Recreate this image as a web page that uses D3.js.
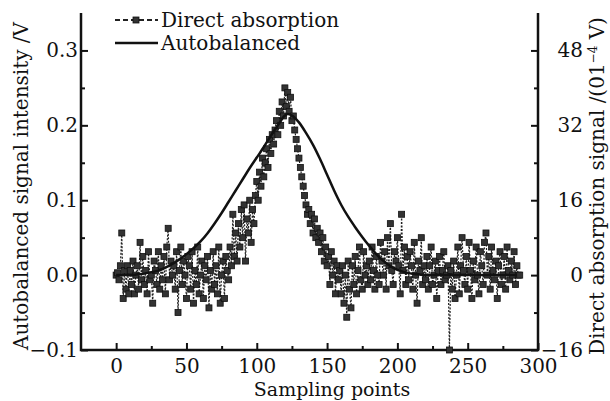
<!DOCTYPE html>
<html>
<head>
  <meta charset="utf-8" />
  <script src="https://d3js.org/d3.v7.min.js"></script>
  <style>
    body { margin: 0; background: white; }
    text { font-family: "DejaVu Serif", serif; fill: #111; }
  </style>
</head>
<body>
  <div id="chart"></div>
  <script>
    // direct absorption signal (units of 1e-4 V), one value per sampling point 0..287
    const directVals = [
      0, 0.5, -1, 2, 9, -5, 1, -3, 2, -4,
      1, -2, 3, -4, 0, 2, -3, 7, -1, 4,
      -2, 1, -4, 5, -1, 0, -6, 3, 1, -2,
      5, -3, 2, -1, 4, -4, 6, 10, -1, 3,
      0, 2, -3, 5, -8, 1, 6, -2, 3, 0,
      -5, 4, 2, -3, 5, -6, 1, -2, 6, -4,
      0, 3, -5, 2, -1, 4, -7, 1, -3, 5,
      -2, 2, -4, 6, -6, 0, 3, -5, 4, 1,
      -1, 6, 2, 13, 4, 9, 3, 11, 6, 14,
      8, 15, 3, 12, 9, 16, 7, 14, 11, 17,
      20, 16, 22, 19, 25, 21, 24, 27, 23, 29,
      26, 30, 28, 31, 33, 30, 35, 32, 37, 34,
      40, 36, 39, 35, 38, 33, 34, 31, 29, 27,
      25, 23, 21, 19, 17, 15, 13, 14, 11, 13,
      9, 12, 8, 10, 7, 9, 5, 8, 3, 6,
      2, 4, -2, 5, 0, 3, -4, 2, -1, 1,
      -4, 2, -6, 0, -9, 3, -3, -7, 2, -2,
      4, -4, 1, 6, -1, -3, 5, 0, 2, -2,
      3, -1, 6, 1, -3, 4, 0, -2, 7, 3,
      0, 5, -3, 8, 2, 11, 1, -2, 5, 3,
      8, 2, -4, 13, 1, 6, -2, 4, -1, 5,
      2, -3, 7, 0, -6, 3, 1, 8, -2, 2,
      -1, 4, -3, 2, 6, -2, 0, 3, -5, 1,
      4, -2, 1, 5, -1, 0, 2, -16, 1, -3,
      3, -5, 0, 6, -4, 2, 8, 1, -2, 4,
      -3, 7, 1, -5, 3, -1, 6, 0, -4, 5,
      2, -2, 7, 9, 0, 4, -3, 6, 1, -1,
      3, -5, 2, 5, -2, 0, 4, -3, 6, 1,
      -1, 3, 0, 5, -2, 2, 0, 0
    ];

    // autobalanced signal (V), smooth curve
    const autoX = [0, 5, 10, 15, 20, 25, 30, 35, 40, 45, 50, 55, 60, 65, 70, 75, 80, 85, 90, 95,
      100, 105, 110, 115, 120, 122, 125, 130, 135, 140, 145, 150, 155, 160, 165, 170, 175, 180,
      185, 190, 195, 200, 205, 210, 215, 220, 230, 240, 250, 260, 270, 280, 285];
    const autoY = [0, 0, 0, 0.001, 0.002, 0.004, 0.006, 0.010, 0.015, 0.021, 0.028, 0.036, 0.045,
      0.056, 0.069, 0.083, 0.098, 0.113, 0.128, 0.143, 0.157, 0.171, 0.186, 0.200, 0.213, 0.215,
      0.213, 0.204, 0.190, 0.174, 0.155, 0.134, 0.113, 0.094, 0.078, 0.064, 0.051, 0.039, 0.028,
      0.019, 0.012, 0.007, 0.004, 0.002, 0.001, 0, 0, 0, 0, 0, 0, 0, 0];

    const xTicks = [0, 50, 100, 150, 200, 250, 300];
    const xMinor = [25, 75, 125, 175, 225, 275];
    const yTicks = [-0.1, 0.0, 0.1, 0.2, 0.3];
    const yMinor = [-0.05, 0.05, 0.15, 0.25];
    const y2Ticks = [-16, 0, 16, 32, 48];
    const y2Minor = [-8, 8, 24, 40];

    const width = 610, height = 401;
    const mLeft = 81, mRight = 538, mTop = 13, mBottom = 350;

    const svg = d3.select("#chart").append("svg")
      .attr("width", width).attr("height", height);

    const x = d3.scaleLinear().domain([-25, 300]).range([mLeft, mRight]);
    const y = d3.scaleLinear().domain([-0.1, 0.35]).range([mBottom, mTop]);
    const y2 = d3.scaleLinear().domain([-16, 56]).range([mBottom, mTop]);

    const fs = 20;

    // axes
    const axisStyle = g => {
      g.select(".domain").remove();
      g.selectAll("line").attr("stroke", "#111").attr("stroke-width", 2);
      g.selectAll("text").attr("font-size", fs).attr("fill", "#111")
        .attr("font-family", "DejaVu Serif");
    };
    const fmt1 = d => (d < 0 ? "\u2212" : "") + Math.abs(d).toFixed(1);
    const fmt0 = d => (d < 0 ? "\u2212" : "") + Math.abs(d);

    svg.append("g").attr("transform", `translate(0,${mBottom})`)
      .call(d3.axisTop(x).tickValues(xMinor).tickSize(4).tickFormat(""))
      .call(axisStyle);
    svg.append("g").attr("transform", `translate(0,${mBottom})`)
      .call(d3.axisBottom(x).tickValues(xTicks).tickSize(0).tickPadding(9).tickFormat(fmt0))
      .call(axisStyle);
    svg.append("g").attr("transform", `translate(0,${mBottom})`)
      .call(d3.axisTop(x).tickValues(xTicks).tickSize(7).tickFormat(""))
      .call(axisStyle);

    svg.append("g").attr("transform", `translate(${mLeft},0)`)
      .call(d3.axisRight(y).tickValues(yMinor).tickSize(4).tickFormat(""))
      .call(axisStyle);
    svg.append("g").attr("transform", `translate(${mLeft},0)`)
      .call(d3.axisRight(y).tickValues(yTicks).tickSize(7).tickFormat(""))
      .call(axisStyle);
    svg.append("g").attr("transform", `translate(${mLeft},0)`)
      .call(d3.axisLeft(y).tickValues(yTicks).tickSize(0).tickPadding(3).tickFormat(fmt1))
      .call(axisStyle);

    svg.append("g").attr("transform", `translate(${mRight},0)`)
      .call(d3.axisLeft(y2).tickValues(y2Minor).tickSize(4).tickFormat(""))
      .call(axisStyle);
    svg.append("g").attr("transform", `translate(${mRight},0)`)
      .call(d3.axisLeft(y2).tickValues(y2Ticks).tickSize(7).tickFormat(""))
      .call(axisStyle);
    svg.append("g").attr("transform", `translate(583,0)`)
      .call(d3.axisLeft(y2).tickValues(y2Ticks).tickSize(0).tickPadding(0).tickFormat(fmt0))
      .call(axisStyle);

    // frame lines (left, bottom, right)
    svg.append("path")
      .attr("d", `M${mLeft},${mTop}V${mBottom}H${mRight}V${mTop}`)
      .attr("fill", "none").attr("stroke", "#111").attr("stroke-width", 2.5);

    // direct absorption: dashed line with square markers
    const directData = directVals.map((v, i) => [i, v]);
    const line2 = d3.line().x(d => x(d[0])).y(d => y2(d[1]));
    svg.append("path").datum(directData)
      .attr("d", line2).attr("fill", "none")
      .attr("stroke", "#222").attr("stroke-width", 1.2).attr("stroke-dasharray", "2,1.5");

    const ms = 6;
    svg.append("g").selectAll("rect").data(directData).join("rect")
      .attr("x", d => x(d[0]) - ms / 2).attr("y", d => y2(d[1]) - ms / 2)
      .attr("width", ms).attr("height", ms)
      .attr("fill", "#333").attr("stroke", "#111").attr("stroke-width", 0.8);

    // autobalanced curve
    const autoData = autoX.map((v, i) => [v, autoY[i]]);
    const line1 = d3.line().x(d => x(d[0])).y(d => y(d[1])).curve(d3.curveMonotoneX);
    svg.append("path").datum(autoData)
      .attr("d", line1).attr("fill", "none")
      .attr("stroke", "#111").attr("stroke-width", 2.5);

    // legend
    const lg = svg.append("g");
    lg.append("line").attr("x1", 115).attr("x2", 158).attr("y1", 20).attr("y2", 20)
      .attr("stroke", "#222").attr("stroke-width", 1.8).attr("stroke-dasharray", "5,3");
    lg.append("rect").attr("x", 133).attr("y", 17).attr("width", 6).attr("height", 6)
      .attr("fill", "#333").attr("stroke", "#111").attr("stroke-width", 0.8);
    lg.append("text").attr("x", 161).attr("y", 27).attr("font-size", fs).text("Direct absorption");
    lg.append("line").attr("x1", 115).attr("x2", 158).attr("y1", 43).attr("y2", 43)
      .attr("stroke", "#111").attr("stroke-width", 2.5);
    lg.append("text").attr("x", 161).attr("y", 50).attr("font-size", fs).text("Autobalanced");

    // axis titles
    svg.append("text").attr("x", 332).attr("y", 396).attr("text-anchor", "middle")
      .attr("font-size", 19).text("Sampling points");
    svg.append("text").attr("transform", "translate(28,186) rotate(-90)")
      .attr("text-anchor", "middle").attr("font-size", fs)
      .text("Autobalanced signal intensity /V");
    const t2 = svg.append("text").attr("transform", "translate(604,186) rotate(-90)")
      .attr("text-anchor", "middle").attr("font-size", fs);
    t2.append("tspan").text("Direct absorption signal /(01");
    t2.append("tspan").attr("font-size", 12).attr("dy", -7).text("\u22124");
    t2.append("tspan").attr("dy", 7).text(" V)");
  </script>
</body>
</html>
